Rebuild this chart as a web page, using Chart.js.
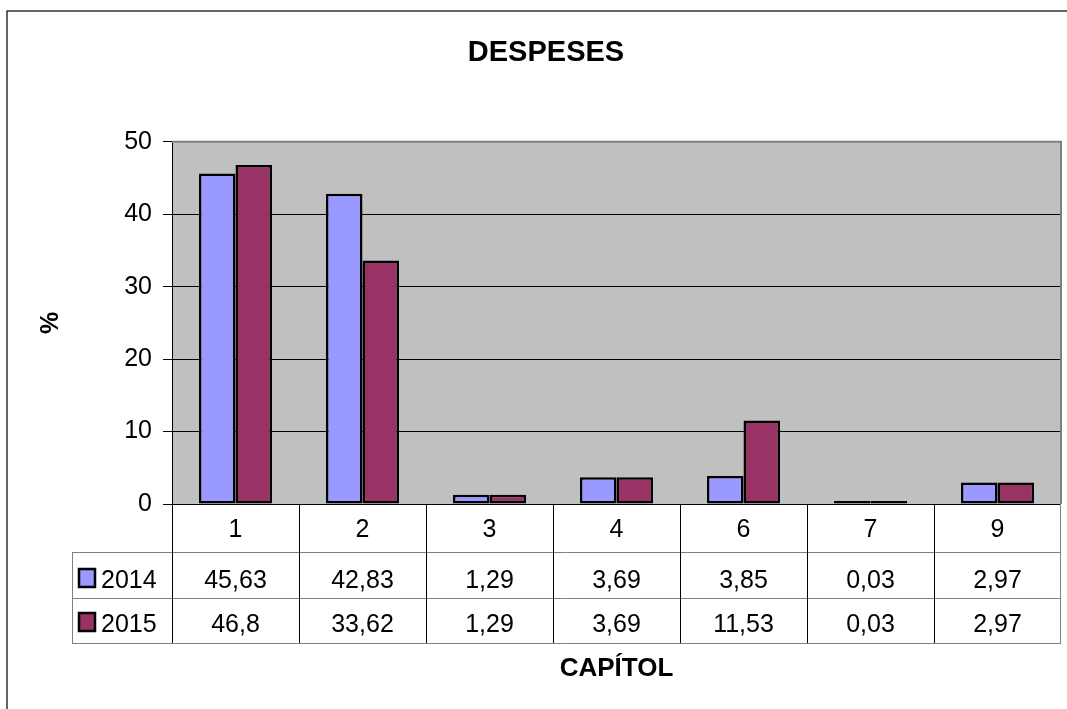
<!DOCTYPE html>
<html>
<head>
<meta charset="utf-8">
<title>DESPESES</title>
<script src="https://cdn.jsdelivr.net/npm/chart.js@4.4.1/dist/chart.umd.min.js"></script>
<style>
  html, body { margin: 0; padding: 0; background: #fff; }
  #wrap { width: 1067px; height: 709px; position: relative; }
</style>
</head>
<body>
<div id="wrap"><canvas id="despeses-chart" width="1067" height="709"></canvas></div>
<script>
// Data
const capitols = ['1', '2', '3', '4', '6', '7', '9'];
const values2014 = [45.63, 42.83, 1.29, 3.69, 3.85, 0.03, 2.97];
const values2015 = [46.8, 33.62, 1.29, 3.69, 11.53, 0.03, 2.97];
const seriesLabels = ['2014', '2015'];
const seriesColors = ['#9999FF', '#993366'];
const yTicks = [0, 10, 20, 30, 40, 50];

const FONT = "'Liberation Sans', Arial, sans-serif";

// Format numbers with comma decimal like the original table
function fmt(v) {
  return String(v).replace('.', ',');
}

// Grey plot background + border
const plotBackground = {
  id: 'plotBackground',
  beforeDraw(chart) {
    const { ctx, chartArea: a } = chart;
    ctx.save();
    ctx.fillStyle = '#C0C0C0';
    ctx.fillRect(a.left, a.top, a.right - a.left, a.bottom - a.top);
    ctx.restore();
  },
  afterDatasetsDraw(chart) {
    const { ctx, chartArea: a } = chart;
    ctx.save();
    ctx.strokeStyle = '#808080';
    ctx.lineWidth = 2;
    ctx.beginPath();
    ctx.moveTo(a.left, a.top);
    ctx.lineTo(a.right, a.top);
    ctx.lineTo(a.right, a.bottom);
    ctx.stroke();
    ctx.restore();
  }
};

// Data table under the plot (category row + one row per series)
const dataTable = {
  id: 'dataTable',
  afterDraw(chart) {
    const { ctx, chartArea: a } = chart;
    const x = chart.scales.x;
    const half = (x.getPixelForValue(1) - x.getPixelForValue(0)) / 2;
    const rowTops = [a.bottom, 552, 598, 643];
    const legendLeft = 72;
    const series = [values2014, values2015];

    ctx.save();
    ctx.lineWidth = 1;

    // horizontal lines
    ctx.strokeStyle = '#000';
    ctx.beginPath();
    ctx.moveTo(a.left, a.bottom + 0.5);
    ctx.lineTo(a.right, a.bottom + 0.5);
    ctx.stroke();
    ctx.strokeStyle = '#808080';
    ctx.beginPath();
    for (let r = 1; r < rowTops.length; r++) {
      ctx.moveTo(legendLeft, rowTops[r] + 0.5);
      ctx.lineTo(a.right, rowTops[r] + 0.5);
    }
    ctx.moveTo(legendLeft + 0.5, rowTops[1]);
    ctx.lineTo(legendLeft + 0.5, rowTops[3]);
    ctx.moveTo(a.right - 0.5, a.bottom);
    ctx.lineTo(a.right - 0.5, rowTops[3]);
    ctx.stroke();

    // vertical separators
    ctx.strokeStyle = '#000';
    ctx.beginPath();
    capitols.forEach((c, i) => {
      const left = Math.round(x.getPixelForValue(i) - half) + 0.5;
      ctx.moveTo(left, a.bottom);
      ctx.lineTo(left, rowTops[3]);
    });
    ctx.stroke();

    // texts
    ctx.fillStyle = '#000';
    ctx.font = '25px ' + FONT;
    ctx.textAlign = 'center';
    ctx.textBaseline = 'alphabetic';
    const baselines = [537, 588, 632];
    capitols.forEach((c, i) => {
      const cx = x.getPixelForValue(i);
      ctx.fillText(c, cx, baselines[0]);
      series.forEach((vals, s) => {
        ctx.fillText(fmt(vals[i]), cx, baselines[s + 1]);
      });
    });

    // legend keys
    ctx.textAlign = 'left';
    seriesLabels.forEach((label, s) => {
      const base = baselines[s + 1];
      ctx.fillStyle = seriesColors[s];
      ctx.fillRect(79, base - 19, 16, 18);
      ctx.strokeStyle = '#000';
      ctx.lineWidth = 2.5;
      ctx.strokeRect(79, base - 19, 16, 18);
      ctx.fillStyle = '#000';
      ctx.fillText(label, 101, base);
    });

    // outer chart border (left and top only, the rest is cut off)
    ctx.strokeStyle = '#333';
    ctx.lineWidth = 1.5;
    ctx.beginPath();
    ctx.moveTo(7, chart.height + 2);
    ctx.lineTo(7, 11);
    ctx.lineTo(chart.width + 2, 11);
    ctx.stroke();
    ctx.restore();
  }
};

const ctx = document.getElementById('despeses-chart').getContext('2d');

new Chart(ctx, {
  type: 'bar',
  data: {
    labels: capitols,
    datasets: [
      {
        label: seriesLabels[0],
        data: values2014,
        backgroundColor: seriesColors[0],
        borderColor: '#000',
        borderWidth: 2.5,
        borderSkipped: false,
        minBarLength: 3
      },
      {
        label: seriesLabels[1],
        data: values2015,
        backgroundColor: seriesColors[1],
        borderColor: '#000',
        borderWidth: 2.5,
        borderSkipped: false,
        minBarLength: 3
      }
    ]
  },
  options: {
    responsive: false,
    animation: false,
    layout: { padding: { left: 31, right: 6, top: 0, bottom: 0 } },
    datasets: {
      bar: { categoryPercentage: 0.575, barPercentage: 1.0 }
    },
    plugins: {
      legend: { display: false },
      tooltip: { enabled: false },
      title: {
        display: true,
        text: 'DESPESES',
        color: '#000',
        font: { family: FONT, size: 29, weight: 'bold', lineHeight: 1.2 },
        padding: { top: 36, bottom: 71 }
      }
    },
    scales: {
      x: {
        grid: { display: false },
        border: { display: false },
        ticks: { display: false },
        title: {
          display: true,
          text: 'CAPÍTOL',
          color: '#000',
          font: { family: FONT, size: 26, weight: 'bold', lineHeight: 1.2 },
          padding: { top: 0, bottom: 25 }
        },
        afterFit: (scale) => { scale.height = 205; }
      },
      y: {
        min: yTicks[0],
        max: yTicks[yTicks.length - 1],
        afterBuildTicks: (scale) => { scale.ticks = yTicks.map(v => ({ value: v })); },
        ticks: {
          color: '#000',
          padding: 11,
          font: { family: FONT, size: 25 }
        },
        grid: { color: '#000', lineWidth: 1, tickLength: 9 },
        border: { color: '#000', width: 1 },
        title: {
          display: true,
          text: '%',
          color: '#000',
          font: { family: FONT, size: 25, weight: 'bold', lineHeight: 1.2 },
          padding: { top: 5, bottom: 0 }
        },
        afterFit: (scale) => { scale.width = 141; }
      }
    }
  },
  plugins: [plotBackground, dataTable]
});
</script>
</body>
</html>
